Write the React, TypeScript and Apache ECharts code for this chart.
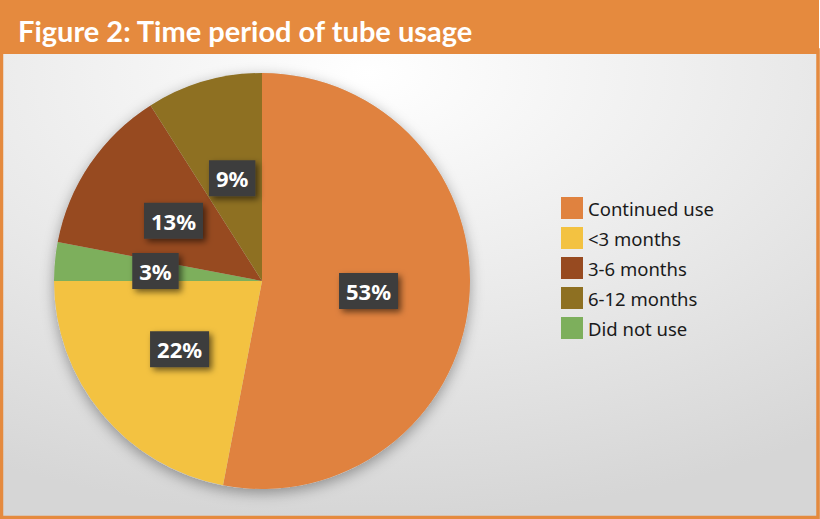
import React, { useEffect, useRef } from "react";
import * as echarts from "echarts";

const categories = ["Continued use", "<3 months", "Did not use", "3-6 months", "6-12 months"];
const values = [53, 22, 3, 13, 9];
const colors = ["#E0823F", "#F3C241", "#7DAF5C", "#974A20", "#8E7022"];
const legendOrder = ["Continued use", "<3 months", "3-6 months", "6-12 months", "Did not use"];
const titleText = "Figure 2: Time period of tube usage";

export default function App() {
  const ref = useRef<HTMLDivElement>(null);
  useEffect(() => {
    document.body.style.margin = "0";
    const chart = echarts.init(ref.current!, null, { renderer: "svg" });
    const W = 820, H = 519;
    chart.setOption({
      animation: false,
      graphic: [
        {
          type: "rect",
          z: -10,
          shape: { x: 0, y: 50, width: W, height: H - 50 },
          style: {
            fill: {
              type: "radial", x: 0.45, y: 0.05, r: 0.95,
              colorStops: [
                { offset: 0, color: "#ffffff" },
                { offset: 0.55, color: "#e9e9e9" },
                { offset: 1, color: "#d6d6d6" },
              ],
            },
          },
        },
        {
          type: "rect",
          z: 10,
          shape: { x: 1.5, y: 50, width: W - 3.5, height: H - 51.5 },
          style: { fill: "none", stroke: "#E58A3E", lineWidth: 3.5 },
        },
        {
          type: "rect",
          z: 11,
          shape: { x: 0, y: 0, width: W - 1, height: 54 },
          style: { fill: "#E58A3E" },
        },
        {
          type: "text",
          z: 12,
          x: 18,
          y: 30,
          style: {
            text: titleText,
            fill: "#ffffff",
            font: "bold 29px Lato, 'Open Sans', sans-serif",
            verticalAlign: "middle",
          },
        },
      ],
      legend: {
        orient: "vertical",
        left: 561,
        top: 197,
        padding: 0,
        itemWidth: 22,
        itemHeight: 22,
        itemGap: 8,
        icon: "rect",
        data: legendOrder,
        textStyle: { fontSize: 18.5, color: "#1a1a1a", fontFamily: "'Noto Sans', sans-serif" },
      },
      series: [
        {
          type: "pie",
          silent: true,
          center: [262, 281],
          radius: 208,
          z: 1,
          label: { show: false },
          labelLine: { show: false },
          itemStyle: { color: "#cccccc", shadowBlur: 14, shadowColor: "rgba(0,0,0,0.35)", shadowOffsetY: 4 },
          data: [{ name: "_shadow", value: 1 }],
          legendHoverLink: false,
        },
        {
          type: "pie",
          center: [262, 281],
          radius: 208,
          startAngle: 90,
          clockwise: true,
          z: 2,
          data: categories.map((c, i) => ({ name: c, value: values[i], itemStyle: { color: colors[i] } })),
          label: {
            show: true,
            position: "inside",
            formatter: (p: any) => p.value + "%",
            color: "#ffffff",
            fontSize: 22,
            fontWeight: "bold",
            fontFamily: "'Noto Sans', sans-serif",
            backgroundColor: "#3d3d3d",
            padding: [8, 7, 6, 7],
            shadowBlur: 6,
            shadowColor: "rgba(0,0,0,0.55)",
            shadowOffsetX: 3,
            shadowOffsetY: 3,
          },
          labelLine: { show: false },
        },
      ],
    });
    return () => chart.dispose();
  }, []);
  return <div ref={ref} style={{ position: "absolute", left: 0, top: 0, width: 820, height: 519 }} />;
}
